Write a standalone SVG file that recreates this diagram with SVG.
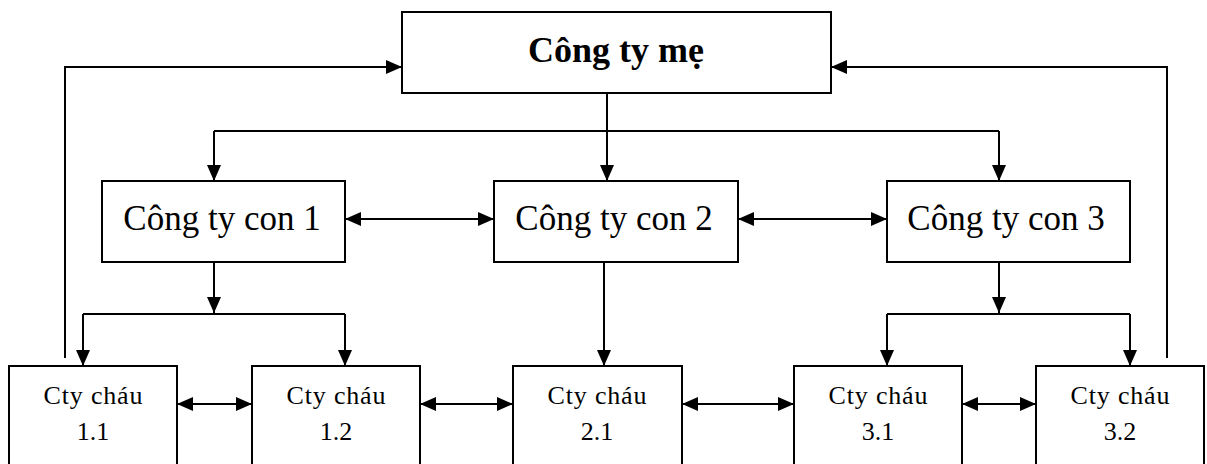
<svg xmlns="http://www.w3.org/2000/svg" width="1207" height="464" viewBox="0 0 1207 464">
<style>
.box{fill:#fff;stroke:#000;stroke-width:2}
.ln{fill:none;stroke:#000;stroke-width:2}
.t{font-family:"Liberation Serif","Times New Roman",serif;fill:#000;text-anchor:middle}
.top{font-size:36px;font-weight:bold}
.mid{font-size:35px}
.sm{font-size:26px}
</style>
<defs>
<marker id="ah" markerUnits="userSpaceOnUse" markerWidth="16" markerHeight="16" viewBox="0 0 16 16" refX="16" refY="8" orient="auto-start-reverse">
<path d="M0 1 L16 8 L0 15 Z" fill="#000"/>
</marker>
</defs>
<rect width="1207" height="464" fill="#fff"/>
<g id="connectors">
<path class="ln" d="M607 93 V181" marker-end="url(#ah)"/>
<path class="ln" d="M214 131 H999"/>
<path class="ln" d="M214 131 V181" marker-end="url(#ah)"/>
<path class="ln" d="M999 131 V181" marker-end="url(#ah)"/>
<path class="ln" d="M65 358 V67 H402" marker-end="url(#ah)"/>
<path class="ln" d="M1167 358 V67 H831" marker-end="url(#ah)"/>
<path class="ln" d="M345 219 H494" marker-start="url(#ah)" marker-end="url(#ah)"/>
<path class="ln" d="M738 219 H887" marker-start="url(#ah)" marker-end="url(#ah)"/>
<path class="ln" d="M214 262 V313" marker-end="url(#ah)"/>
<path class="ln" d="M83 314 H345"/>
<path class="ln" d="M83 314 V366" marker-end="url(#ah)"/>
<path class="ln" d="M345 314 V366" marker-end="url(#ah)"/>
<path class="ln" d="M604 262 V366" marker-end="url(#ah)"/>
<path class="ln" d="M999 262 V313" marker-end="url(#ah)"/>
<path class="ln" d="M887 314 H1130"/>
<path class="ln" d="M887 314 V366" marker-end="url(#ah)"/>
<path class="ln" d="M1130 314 V366" marker-end="url(#ah)"/>
<path class="ln" d="M177 404 H252" marker-start="url(#ah)" marker-end="url(#ah)"/>
<path class="ln" d="M420 404 H513" marker-start="url(#ah)" marker-end="url(#ah)"/>
<path class="ln" d="M682 404 H794" marker-start="url(#ah)" marker-end="url(#ah)"/>
<path class="ln" d="M962 404 H1036" marker-start="url(#ah)" marker-end="url(#ah)"/>
</g>
<g id="parent">
<rect class="box" x="402" y="12" width="429" height="81"/>
<text class="t top" x="616" y="62">Công ty mẹ</text>
</g>
<g id="con1">
<rect class="box" x="102" y="181" width="243" height="81"/>
<text class="t mid" x="222" y="230">Công ty con 1</text>
</g>
<g id="con2">
<rect class="box" x="494" y="181" width="244" height="81"/>
<text class="t mid" x="614" y="230">Công ty con 2</text>
</g>
<g id="con3">
<rect class="box" x="887" y="181" width="243" height="81"/>
<text class="t mid" x="1006" y="230">Công ty con 3</text>
</g>
<g id="chau11">
<rect class="box" x="9" y="366" width="168" height="110"/>
<text class="t sm" x="93" y="404" textLength="99" lengthAdjust="spacing">Cty cháu</text>
<text class="t sm" x="93" y="440">1.1</text>
</g>
<g id="chau12">
<rect class="box" x="252" y="366" width="168" height="110"/>
<text class="t sm" x="336" y="404" textLength="99" lengthAdjust="spacing">Cty cháu</text>
<text class="t sm" x="336" y="440">1.2</text>
</g>
<g id="chau21">
<rect class="box" x="513" y="366" width="169" height="110"/>
<text class="t sm" x="597" y="404" textLength="99" lengthAdjust="spacing">Cty cháu</text>
<text class="t sm" x="597" y="440">2.1</text>
</g>
<g id="chau31">
<rect class="box" x="794" y="366" width="168" height="110"/>
<text class="t sm" x="878" y="404" textLength="99" lengthAdjust="spacing">Cty cháu</text>
<text class="t sm" x="878" y="440">3.1</text>
</g>
<g id="chau32">
<rect class="box" x="1036" y="366" width="168" height="110"/>
<text class="t sm" x="1120" y="404" textLength="99" lengthAdjust="spacing">Cty cháu</text>
<text class="t sm" x="1120" y="440">3.2</text>
</g>
</svg>
